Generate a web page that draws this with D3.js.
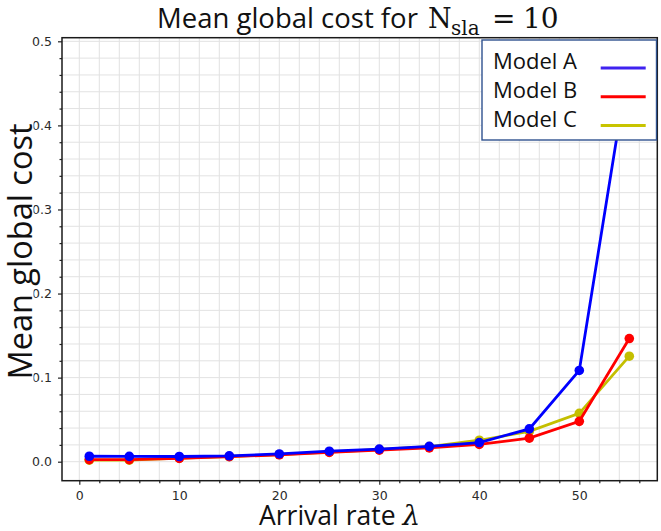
<!DOCTYPE html>
<html>
<head>
<meta charset="utf-8">
<script src="https://cdn.jsdelivr.net/npm/d3@7"></script>
<style>
	body { margin: 0; background: #fff; }
	svg { display: block; }
</style>
</head>
<body>
<svg id="chart" width="661" height="531"></svg>
<script>
// Values
const lambdas  = [1, 5, 10, 15, 20, 25, 30, 35, 40, 45, 50, 55]
const modelA   = [0.0065, 0.0063, 0.0062, 0.0070, 0.0092, 0.0125, 0.0150, 0.0182, 0.0228, 0.0390, 0.1085, 0.478]
const modelB   = [0.0025, 0.0025, 0.0040, 0.0060, 0.0082, 0.0110, 0.0138, 0.0165, 0.0205, 0.0280, 0.0480, 0.1465]
const modelC   = [0.0018, 0.0018, 0.0042, 0.0062, 0.0085, 0.0115, 0.0145, 0.0180, 0.0255, 0.0360, 0.0575, 0.1255]
const xTicks   = [0, 10, 20, 30, 40, 50]
const yTicks   = [0.0, 0.1, 0.2, 0.3, 0.4, 0.5]
const seriesNames = ["Model A", "Model B", "Model C"]

const colors = {"Model A": "#0000ff", "Model B": "#ff0000", "Model C": "#c4bf00"}
const legendColors = {"Model A": "#3f22f0", "Model B": "#ff0000", "Model C": "#c8c400"}

const svg = d3.select("#chart")

// plot box in pixels
const box = {left: 62, right: 657.3, top: 37.7, bottom: 480.7}

const x = d3.scaleLinear().domain([-1.73, 57.8]).range([box.left, box.right])
const y = d3.scaleLinear().domain([-0.0226, 0.5043]).range([box.bottom, box.top])

// grid, major and minor
const xMinor = d3.range(0, 58, 2)
const yMinor = d3.range(0, 0.501, 0.02)
let grid = svg.append("g").attr("class", "grid")
grid.selectAll("line.gx").data(xMinor).join("line")
	.attr("x1", d => x(d)).attr("x2", d => x(d))
	.attr("y1", box.top).attr("y2", box.bottom)
	.style("stroke", "#e2e2e2").style("stroke-width", 1)
grid.selectAll("line.gy").data(yMinor).join("line")
	.attr("y1", d => y(d)).attr("y2", d => y(d))
	.attr("x1", box.left).attr("x2", box.right)
	.style("stroke", "#e2e2e2").style("stroke-width", 1)

// axes
let xAxis = svg.append("g")
	.attr("transform", "translate(0," + box.bottom + ")")
	.call(d3.axisBottom(x).tickValues(xTicks).tickFormat(d3.format("d")).tickSize(4).tickPadding(6))
let xMinorAxis = svg.append("g")
	.attr("transform", "translate(0," + box.bottom + ")")
	.call(d3.axisBottom(x).tickValues(xMinor.filter(d => d % 10)).tickFormat("").tickSize(2.5))
let yAxis = svg.append("g")
	.attr("transform", "translate(" + box.left + ",0)")
	.call(d3.axisLeft(y).tickValues(yTicks).tickFormat(d3.format(".1f")).tickSize(4).tickPadding(6))
let yMinorAxis = svg.append("g")
	.attr("transform", "translate(" + box.left + ",0)")
	.call(d3.axisLeft(y).tickValues(yMinor.filter((d, i) => i % 5)).tickFormat("").tickSize(2.5))

svg.selectAll(".domain").remove()
;[xAxis, xMinorAxis, yAxis, yMinorAxis].forEach(a => {
	a.selectAll("line").style("stroke", "#222").style("stroke-width", 1.2)
	a.selectAll("text")
		.style("font-family", "DejaVu Sans")
		.style("font-size", "12.5px")
		.style("fill", "#2a2a2a")
})

// frame
svg.append("rect")
	.attr("x", box.left).attr("y", box.top)
	.attr("width", box.right - box.left).attr("height", box.bottom - box.top)
	.style("fill", "none").style("stroke", "#1a1a1a").style("stroke-width", 1.5)

// lines, drawn C, B, A so that A ends on top
svg.append("clipPath").attr("id", "plotClip")
	.append("rect")
	.attr("x", box.left).attr("y", box.top)
	.attr("width", box.right - box.left).attr("height", box.bottom - box.top)

const lineFunction = d3.line().x(d => x(d[0])).y(d => y(d[1]))
const seriesData = {"Model A": modelA, "Model B": modelB, "Model C": modelC}

let plot = svg.append("g").attr("clip-path", "url(#plotClip)")
;["Model C", "Model B", "Model A"].forEach(name => {
	let pts = lambdas.map((l, i) => [l, seriesData[name][i]])
	plot.append("path")
		.attr("d", lineFunction(pts))
		.style("fill", "none")
		.style("stroke", colors[name])
		.style("stroke-width", 2.8)
	plot.selectAll("circle." + name.replace(" ", ""))
		.data(pts).join("circle")
		.attr("cx", d => x(d[0])).attr("cy", d => y(d[1]))
		.attr("r", 4.8)
		.style("fill", colors[name])
})

// legend
let legend = svg.append("g")
legend.append("rect")
	.attr("x", 482).attr("y", 40).attr("width", 174.5).attr("height", 100)
	.style("fill", "#fff").style("stroke", "#2f528f").style("stroke-width", 1.4)
seriesNames.forEach((name, i) => {
	let by = 69 + i * 28.8
	legend.append("text")
		.attr("x", 493).attr("y", by)
		.style("font-family", "Open Sans").style("font-size", "22px").style("fill", "#111")
		.text(name)
	legend.append("line")
		.attr("x1", 600.7).attr("x2", 645.7)
		.attr("y1", by - 1).attr("y2", by - 1)
		.style("stroke", legendColors[name]).style("stroke-width", 3)
})

// title
let title = svg.append("g")
title.append("text")
	.attr("x", 157).attr("y", 28)
	.style("font-family", "Open Sans").style("font-size", "27.5px").style("fill", "#111")
	.text("Mean global cost for ")
title.append("text")
	.attr("x", 428).attr("y", 28)
	.style("font-family", "DejaVu Serif").style("font-size", "27px").style("fill", "#111")
	.text("N")
title.append("text")
	.attr("x", 451).attr("y", 34.5)
	.style("font-family", "DejaVu Serif").style("font-size", "20px").style("fill", "#111")
	.text("sla")
title.append("text")
	.attr("x", 492).attr("y", 28)
	.style("font-family", "DejaVu Serif").style("font-size", "28px").style("fill", "#111")
	.text("=")
title.append("text")
	.attr("x", 523).attr("y", 28)
	.style("font-family", "DejaVu Serif").style("font-size", "28px").style("fill", "#111")
	.text("10")

// x label, on a white box that hides the lower part of two tick labels
svg.append("rect")
	.attr("x", 256).attr("y", 500).attr("width", 172).attr("height", 31)
	.style("fill", "#fff")
let xl = svg.append("text")
	.attr("x", 259).attr("y", 524.5)
	.style("font-family", "Open Sans").style("font-size", "26.5px").style("fill", "#111")
xl.append("tspan").text("Arrival rate ")
xl.append("tspan").style("font-family", "DejaVu Serif").style("font-style", "italic")
	.style("font-size", "28px").text("λ")

// y label, sits on a white box that hides part of the tick labels
svg.append("rect")
	.attr("x", 3).attr("y", 112).attr("width", 30.5).attr("height", 280)
	.style("fill", "#fff")
svg.append("text")
	.attr("transform", "translate(31.5,251.5) rotate(-90)")
	.attr("text-anchor", "middle")
	.style("font-family", "Open Sans").style("font-size", "32.5px").style("fill", "#111")
	.text("Mean global cost")
</script>
</body>
</html>
